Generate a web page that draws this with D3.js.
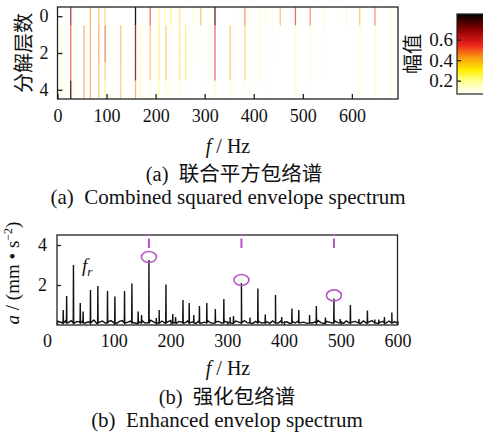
<!DOCTYPE html>
<html>
<head>
<meta charset="utf-8">
<script src="https://cdn.jsdelivr.net/npm/d3@7"></script>
<style>
  body { margin: 0; background: #fff; }
  text { font-family: "Liberation Serif", "Noto Sans CJK SC", serif; fill: #111; white-space: pre; }
</style>
</head>
<body>
<svg id="chart"></svg>
<script>
// ---- top: combined squared envelope spectrum (heat lines per decomposition level)
const heatFreqs = [7, 14, 27, 33, 38, 54, 67, 74, 84, 97, 113, 129, 145, 159, 169, 173, 189, 200, 207, 219,
  221, 231, 237, 249, 261, 278, 292, 309, 321, 352, 369, 382, 394, 412, 425, 440, 454, 485, 515, 544,
  575, 589, 616, 647, 678];
const level0 = [0.12, 0.15, 0.68, 0, 0.15, 0, 0.45, 0.15, 0.42, 0.38, 0, 0, 0, 0.85, 0, 0, 0.55, 0.15, 0.3, 0.22,
  0, 0.32, 0.15, 0.35, 0.15, 0.22, 0.42, 0.15, 0.78, 0, 0.15, 0.5, 0.15, 0.22, 0.22, 0.15, 0.42, 0.55, 0.48, 0.22,
  0.15, 0.22, 0.4, 0.5, 0.22];
const level1 = [0.25, 0.12, 0.55, 0.15, 0.15, 0.45, 0.45, 0.15, 0.45, 0.52, 0.15, 0.42, 0.12, 0.72, 0.22, 0.15, 0.42, 0.12, 0.32, 0.12,
  0.4, 0.15, 0.12, 0.35, 0.32, 0.12, 0.15, 0.12, 0.55, 0.42, 0.15, 0.38, 0.15, 0.22, 0.15, 0.12, 0.12, 0.2, 0.2, 0.15,
  0, 0.12, 0.2, 0.2, 0.2];
const level2 = level1.slice();
const level3 = [0.25, 0.12, 0.55, 0.15, 0.12, 0.45, 0.45, 0.15, 0.42, 0.4, 0.15, 0.4, 0.12, 0.72, 0.22, 0.15, 0.42, 0.12, 0.32, 0.12,
  0.4, 0.15, 0.12, 0.35, 0.32, 0, 0.15, 0.12, 0.55, 0.42, 0, 0.38, 0.12, 0.22, 0.15, 0.12, 0, 0.2, 0.2, 0.15,
  0, 0.12, 0.2, 0.2, 0.2];
const level4 = [0.25, 0.15, 0.8, 0.2, 0.15, 0.45, 0.45, 0.15, 0.42, 0.3, 0.15, 0.4, 0.12, 0.45, 0.22, 0.15, 0.2, 0.15, 0.25, 0.12,
  0.2, 0.15, 0.12, 0.2, 0.15, 0, 0.15, 0.12, 0.25, 0.2, 0, 0.15, 0.12, 0.12, 0.12, 0, 0, 0.2, 0.15, 0,
  0, 0, 0.2, 0.2, 0.2];
const levels = [level0, level1, level2, level3, level4];
const topTicks = [0, 100, 200, 300, 400, 500, 600];
const levelTicks = [0, 2, 4];
const cbarTicks = [0.2, 0.4, 0.6];

// ---- bottom: enhanced envelope spectrum
const peakFreqs = [11, 17, 29, 41, 46, 59, 72, 89, 102, 119, 132, 143, 149, 162, 175, 180, 192, 204, 209, 222,
  233, 241, 251, 264, 279, 294, 305, 311, 325, 340, 354, 367, 385, 396, 414, 426, 445, 457, 473, 488,
  499, 517, 532, 547, 560, 567, 577, 590];
const peakAmps = [0.75, 1.45, 3.0, 1.1, 0.67, 1.75, 1.95, 1.7, 1.42, 1.7, 2.08, 0.67, 0.5, 3.25, 0.35, 0.75, 2.03, 0.55, 0.4, 1.25,
  1.1, 0.5, 0.95, 1.1, 0.8, 1.3, 0.4, 0.45, 2.1, 0.37, 1.83, 0.53, 1.5, 0.4, 0.83, 0.75, 0.5, 0.95, 0.37, 1.33,
  0.3, 1.0, 0.3, 0.72, 0.27, 0.27, 0.4, 0.62];
// noise floor, every 5 Hz from 0 to 600
const floorAmps = [0.2, 0.15, 0.1, 0.2, 0.12, 0.22, 0.08, 0.18, 0.14, 0.2, 0.1, 0.16, 0.12, 0.25, 0.08, 0.14, 0.2, 0.1, 0.16, 0.22,
  0.12, 0.08, 0.18, 0.22, 0.1, 0.14, 0.2, 0.12, 0.08, 0.16, 0.22, 0.1, 0.12, 0.24, 0.16, 0.08, 0.14, 0.2, 0.1, 0.16,
  0.22, 0.12, 0.08, 0.18, 0.14, 0.1, 0.2, 0.12, 0.16, 0.08, 0.2, 0.1, 0.14, 0.22, 0.12, 0.08, 0.16, 0.18, 0.1, 0.2,
  0.12, 0.16, 0.08, 0.2, 0.14, 0.1, 0.22, 0.12, 0.16, 0.08, 0.18, 0.2, 0.1, 0.12, 0.16, 0.08, 0.2, 0.14, 0.1, 0.22,
  0.12, 0.16, 0.08, 0.18, 0.1, 0.2, 0.12, 0.14, 0.08, 0.2, 0.1, 0.16, 0.22, 0.12, 0.08, 0.18, 0.14, 0.1, 0.2, 0.12,
  0.16, 0.08, 0.2, 0.1, 0.14, 0.18, 0.12, 0.08, 0.2, 0.1, 0.16, 0.22, 0.12, 0.08, 0.14, 0.18, 0.1, 0.2, 0.12, 0.16, 0.1];
const peakBase = 0.1;
const faultFreqs = [162, 325, 488];
const faultAmps = [3.25, 2.1, 1.33];
const bottomTicks = [0, 100, 200, 300, 400, 500, 600];
const ampTicks = [2, 4];

const width = 483, height = 436;
const svg = d3.select("#chart").attr("width", width).attr("height", height);

function styleAxis(g) {
  g.select(".domain").remove();
  g.selectAll("line").attr("stroke", "#222").attr("stroke-width", 1.3);
  g.selectAll("text").attr("font-size", 18).attr("font-family", "Liberation Serif").attr("fill", "#111");
}

// ---------- top panel ----------
const x1 = d3.scaleLinear().domain([0, 694]).range([57.5, 398]);
const y1 = d3.scaleLinear().domain([-0.5, 4.5]).range([7, 99]);

const hot = d3.scaleLinear()
  .domain([0.07, 0.2, 0.3, 0.42, 0.55, 0.7, 0.85])
  .range(["#ffffff", "#ffff90", "#fff000", "#f8a010", "#ee2020", "#8a0000", "#000000"])
  .clamp(true);

const g1 = svg.append("g");
levels.forEach((row, li) => {
  g1.append("g").selectAll("line")
    .data(heatFreqs.map((f, i) => ({f: f, v: row[i]})).filter(d => d.v > 0))
    .join("line")
    .attr("x1", d => x1(d.f)).attr("x2", d => x1(d.f))
    .attr("y1", y1(li - 0.5)).attr("y2", y1(li + 0.5))
    .attr("stroke", d => hot(d.v))
    .attr("stroke-opacity", d => Math.min(1, 0.2 + 0.85 * d.v))
    .attr("stroke-width", 1.3);
});

g1.append("rect")
  .attr("x", x1.range()[0]).attr("y", y1.range()[0])
  .attr("width", x1.range()[1] - x1.range()[0]).attr("height", y1.range()[1] - y1.range()[0])
  .attr("fill", "none").attr("stroke", "#222").attr("stroke-width", 1.3);

g1.append("g").attr("transform", `translate(0,${y1.range()[1]})`)
  .call(d3.axisBottom(x1).tickValues(topTicks).tickFormat(d3.format("d")).tickSizeInner(-5).tickSizeOuter(0).tickPadding(10))
  .call(styleAxis);

g1.append("g").attr("transform", `translate(${x1.range()[0]},0)`)
  .call(d3.axisLeft(y1).tickValues(levelTicks).tickFormat(d3.format("d")).tickSizeInner(-5).tickSizeOuter(0).tickPadding(9))
  .call(styleAxis);

g1.append("text").attr("transform", `translate(31,${(y1.range()[0] + y1.range()[1]) / 2}) rotate(-90)`)
  .attr("text-anchor", "middle").attr("font-size", 20).text("分解层数");

// colorbar
const cb = d3.scaleLinear().domain([0.07, 0.85]).range([94, 14]);
const defs = svg.append("defs");
const grad = defs.append("linearGradient").attr("id", "hotgrad")
  .attr("x1", 0).attr("y1", 1).attr("x2", 0).attr("y2", 0);
d3.range(0, 1.0001, 0.05).forEach(t => {
  const v = 0.07 + t * 0.78;
  grad.append("stop").attr("offset", t).attr("stop-color", hot(v));
});
svg.append("rect").attr("x", 457).attr("y", 14).attr("width", 40).attr("height", 80)
  .attr("fill", "url(#hotgrad)").attr("stroke", "#222").attr("stroke-width", 1.2);
svg.append("g").attr("transform", "translate(457,0)")
  .call(d3.axisLeft(cb).tickValues(cbarTicks).tickFormat(d3.format(".1f")).tickSizeInner(-4).tickSizeOuter(0).tickPadding(4))
  .call(styleAxis)
  .call(g => g.selectAll("text").attr("font-size", 19));
svg.append("text").attr("transform", "translate(420,54) rotate(-90)")
  .attr("text-anchor", "middle").attr("font-size", 20).text("幅值");

svg.append("text").attr("x", 228).attr("y", 153).attr("text-anchor", "middle").attr("font-size", 20)
  .html('<tspan font-style="italic">f</tspan> / Hz');
svg.append("text").attr("x", 234).attr("y", 181).attr("text-anchor", "middle").attr("font-size", 20.5)
  .text("(a)  联合平方包络谱");
svg.append("text").attr("x", 228).attr("y", 204).attr("text-anchor", "middle").attr("font-size", 21)
  .text("(a)  Combined squared envelope spectrum");

// ---------- bottom panel ----------
const x2 = d3.scaleLinear().domain([0, 600]).range([57, 397.5]);
const y2 = d3.scaleLinear().domain([0, 4.5]).range([325, 235]);

// each peak is a narrow stem rising from the floor
const spec = floorAmps.map((a, i) => ({f: i * 5, a: a}));
peakFreqs.forEach((f, i) => {
  spec.push({f: f - 0.4, a: peakBase}, {f: f, a: peakAmps[i]}, {f: f + 0.4, a: peakBase});
});
spec.sort((a, b) => a.f - b.f);

svg.append("path").datum(spec)
  .attr("fill", "none").attr("stroke", "#111").attr("stroke-width", 1.4)
  .attr("d", d3.line().x(d => x2(d.f)).y(d => y2(d.a)));

svg.append("rect")
  .attr("x", x2.range()[0]).attr("y", y2.range()[1])
  .attr("width", x2.range()[1] - x2.range()[0]).attr("height", y2.range()[0] - y2.range()[1])
  .attr("fill", "none").attr("stroke", "#222").attr("stroke-width", 1.3);

svg.append("g").attr("transform", `translate(0,${y2.range()[0]})`)
  .call(d3.axisBottom(x2).tickValues(bottomTicks).tickFormat(d3.format("d")).tickSizeInner(-4).tickSizeOuter(0).tickPadding(9))
  .call(styleAxis)
  .call(g => g.selectAll("text").attr("dx", d => d === 0 ? -10 : 0));

svg.append("g").attr("transform", `translate(${x2.range()[0]},0)`)
  .call(d3.axisLeft(y2).tickValues(ampTicks).tickFormat(d3.format("d")).tickSizeInner(-4).tickSizeOuter(0).tickPadding(10))
  .call(styleAxis);

svg.append("text").attr("transform", "translate(19,273) rotate(-90)")
  .attr("text-anchor", "middle").attr("font-size", 19)
  .html('<tspan font-style="italic">a</tspan> / (mm • s<tspan dy="-7" font-size="12">−2</tspan><tspan dy="7">)</tspan>');

svg.append("text").attr("x", 82).attr("y", 272).attr("font-size", 19).attr("font-style", "italic")
  .html('f<tspan dy="4" font-size="13">r</tspan>');

const purple = "#b455c4";
const mk = svg.append("g");
mk.selectAll("ellipse").data(faultFreqs).join("ellipse")
  .attr("cx", d => x2(d)).attr("cy", (d, i) => y2(faultAmps[i]) - 3)
  .attr("rx", 7.5).attr("ry", 5.5)
  .attr("fill", "none").attr("stroke", purple).attr("stroke-width", 1.6);
mk.selectAll("line").data(faultFreqs).join("line")
  .attr("x1", d => x2(d)).attr("x2", d => x2(d))
  .attr("y1", 238.5).attr("y2", 248)
  .attr("stroke", purple).attr("stroke-width", 2);
mk.selectAll("rect").data(faultFreqs).join("rect")
  .attr("x", d => x2(d) - 1).attr("y", 234).attr("width", 2).attr("height", 2)
  .attr("fill", purple);

svg.append("text").attr("x", 228).attr("y", 375).attr("text-anchor", "middle").attr("font-size", 20)
  .html('<tspan font-style="italic">f</tspan> / Hz');
svg.append("text").attr("x", 227).attr("y", 404).attr("text-anchor", "middle").attr("font-size", 20.5)
  .text("(b)  强化包络谱");
svg.append("text").attr("x", 227).attr("y", 427).attr("text-anchor", "middle").attr("font-size", 21)
  .text("(b)  Enhanced envelop spectrum");
</script>
</body>
</html>
